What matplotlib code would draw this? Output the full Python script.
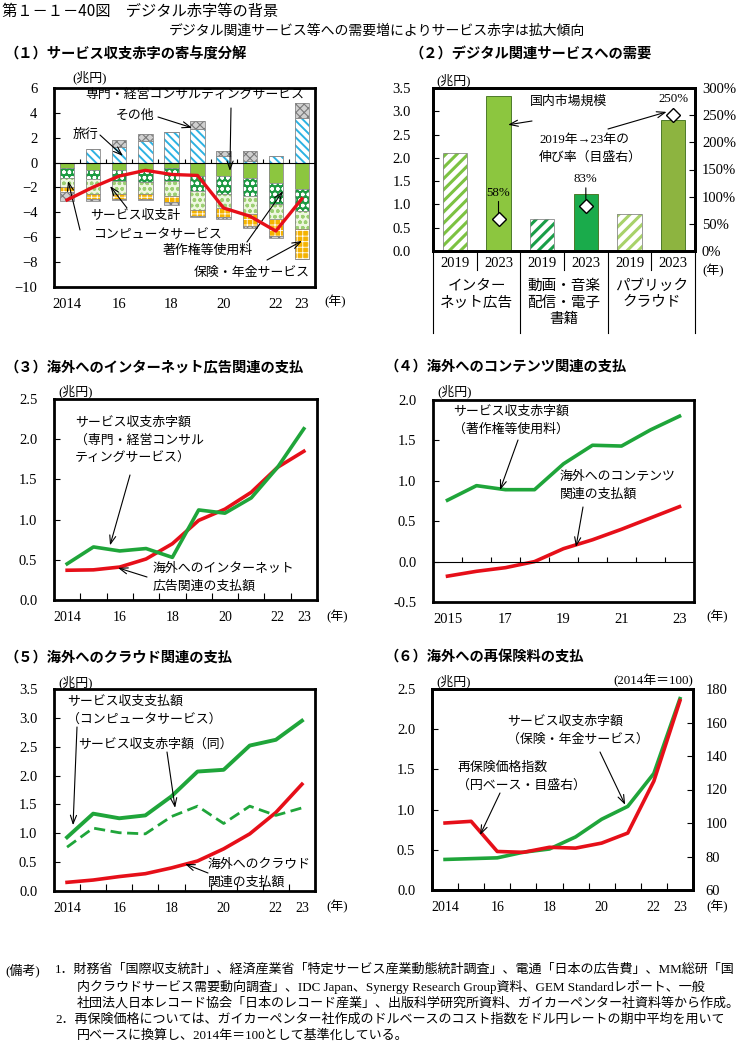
import numpy as np
import matplotlib.pyplot as plt
from matplotlib.ticker import FormatStrFormatter

W, H = 753, 1045
SERIF = ['Liberation Serif', 'Noto Sans CJK JP']
GOTH = ['Noto Sans CJK JP', 'DejaVu Sans']

plt.rcParams['font.family'] = SERIF
plt.rcParams['hatch.linewidth'] = 1.0
plt.rcParams['axes.unicode_minus'] = True

RED = '#e60f19'
GREEN = '#1fa53a'

# ---- (1) services balance contributions (trillion yen)
years = np.arange(2014, 2024)
year_labels = ['2014', '', '16', '', '18', '', '20', '', '22', '23']
travel = [0.0, 1.08, 1.27, 1.70, 2.43, 2.70, 0.55, 0.15, 0.55, 3.60]
other_pos = [0.0, 0.03, 0.57, 0.60, 0.05, 0.62, 0.40, 0.80, 0.0, 1.20]
consulting = [-0.45, -0.62, -0.62, -0.62, -0.45, -1.10, -1.05, -1.20, -1.65, -2.10]
royalties = [-0.75, -0.73, -0.87, -0.92, -1.00, -1.20, -1.50, -1.50, -1.65, -1.75]
computer = [-0.80, -1.15, -1.01, -0.96, -1.20, -1.50, -1.10, -1.45, -1.20, -1.50]
insurance = [-0.40, -0.40, -0.40, -0.40, -0.50, -0.50, -0.75, -0.95, -1.40, -2.40]
other_neg = [-0.65, -0.15, -0.07, -0.07, -0.25, -0.05, -0.10, -0.15, -0.20, 0.0]
services_total = [-3.00, -1.97, -1.08, -0.62, -0.95, -1.03, -3.65, -4.30, -5.50, -2.90]

# ---- (2) digital services demand
groups = ['インター\nネット広告', '動画・音楽\n配信・電子\n書籍', 'パブリック\nクラウド']
demand_years = ['2019', '2023']
market_2019 = [2.10, 0.68, 0.80]
market_2023 = [3.32, 1.23, 2.82]
growth = [58, 83, 250]

# ---- (3) internet advertising
ad_deficit = [0.45, 0.66, 0.61, 0.64, 0.53, 1.12, 1.08, 1.27, 1.65, 2.13]
ad_payments = [0.37, 0.375, 0.41, 0.51, 0.70, 0.99, 1.13, 1.34, 1.65, 1.85]

# ---- (4) contents
years4 = np.arange(2015, 2024)
year4_labels = ['2015', '', '17', '', '19', '', '21', '', '23']
royalty_deficit = [0.76, 0.94, 0.89, 0.89, 1.21, 1.44, 1.43, 1.63, 1.80]
content_payments = [-0.18, -0.12, -0.075, 0.0, 0.16, 0.27, 0.40, 0.54, 0.68]

# ---- (5) cloud
computer_payments = [0.93, 1.34, 1.26, 1.31, 1.64, 2.07, 2.10, 2.52, 2.62, 2.95]
computer_deficit = [0.76, 1.09, 1.01, 0.99, 1.29, 1.47, 1.17, 1.47, 1.31, 1.44]
cloud_payments = [0.15, 0.19, 0.25, 0.30, 0.40, 0.52, 0.73, 0.99, 1.36, 1.85]

# ---- (6) reinsurance
insurance_deficit = [0.38, 0.39, 0.40, 0.47, 0.51, 0.66, 0.88, 1.04, 1.45, 2.38]
reinsurance_index = [100, 101, 83, 82.5, 85.5, 85, 88, 94, 125, 173]

notes = [
    ('(備考)', '1．財務省「国際収支統計」、経済産業省「特定サービス産業動態統計調査」、電通「日本の広告費」、MM総研「国'),
    ('', '内クラウドサービス需要動向調査」、IDC Japan、Synergy Research Group資料、GEM Standardレポート、一般'),
    ('', '社団法人日本レコード協会「日本のレコード産業」、出版科学研究所資料、ガイカーペンター社資料等から作成。'),
    ('', '2．再保険価格については、ガイカーペンター社作成のドルベースのコスト指数をドル円レートの期中平均を用いて'),
    ('', '円ベースに換算し、2014年＝100として基準化している。'),
]

fig = plt.figure(figsize=(W / 100, H / 100), dpi=100)


def px_axes(x0, y0, x1, y1):
    return fig.add_axes([x0 / W, 1 - y1 / H, (x1 - x0) / W, (y1 - y0) / H])


def ftext(x, y, s, size=9.3, **kw):
    kw.setdefault('va', 'center')
    kw.setdefault('family', SERIF)
    fig.text(x / W, 1 - y / H, s, fontsize=size, **kw)


def lines(x, y, rows, dy=17.5, **kw):
    for i, r in enumerate(rows):
        ftext(x, y + i * dy, r, **kw)


def arrow(ax, xy, tail):
    ax.annotate('', xy=xy, xycoords='data', xytext=(tail[0] / W, 1 - tail[1] / H),
                textcoords='figure fraction',
                arrowprops=dict(arrowstyle='->,head_length=0.6,head_width=0.22',
                                lw=0.8, color='black', shrinkA=0, shrinkB=0))


def frame(ax):
    for s in ax.spines.values():
        s.set_linewidth(2.0)
    ax.tick_params(direction='in', length=4, width=0.8, labelsize=10.5, pad=12)


def title(x, y, s):
    ftext(x, y, s, size=10.3, family=GOTH, weight='bold')


def year_axis(ax, xs, labels):
    ax.set_xlim(xs[0] - 0.5, xs[-1] + 0.5)
    ax.set_xticks(xs[:-1] + 0.5)
    ax.set_xticklabels([])
    ax.set_xticks(xs, minor=True)
    ax.set_xticklabels(labels, minor=True)
    ax.tick_params(axis='x', which='major', length=5)
    ax.tick_params(axis='x', which='minor', length=0, pad=8)


def hbar(ax, x, h, bottom, fc, hatch, hc, width=0.55, hlw=1.0):
    with plt.rc_context({'hatch.linewidth': hlw}):
        ax.bar(x, h, width, bottom=bottom, color=fc, edgecolor=hc, hatch=hatch, linewidth=0)
    ax.bar(x, h, width, bottom=bottom, fill=False, edgecolor='#8a8a8a', linewidth=0.6)


# ======== titles
ftext(2, 11, '第１－１－40図　デジタル赤字等の背景', size=11, family=GOTH)
ftext(377, 31, 'デジタル関連サービス等への需要増によりサービス赤字は拡大傾向', size=10, family=GOTH, ha='center')

# ======== (1)
title(4, 55, '（１）サービス収支赤字の寄与度分解')
ax1 = px_axes(54, 88, 315, 287)
frame(ax1)
xi = np.arange(len(years))
pos_base = np.zeros(len(years))
for vals, fc, hatch, hc, hlw in [(travel, 'white', '\\\\\\\\', '#2cb2e2', 1.4),
                                 (other_pos, '#d0d0d0', 'xxxx', '#7a7a7a', 0.8)]:
    hbar(ax1, xi, vals, pos_base, fc, hatch, hc, hlw=hlw)
    pos_base = pos_base + np.array(vals)
neg_base = np.zeros(len(years))
for vals, fc, hatch, hc, hlw in [(consulting, '#8cc63f', None, '#8cc63f', 1.0),
                                 (royalties, '#1c9a42', 'ooo', 'white', 1.0),
                                 (computer, '#eef7e0', 'ooo', '#9ccf72', 1.0),
                                 (insurance, '#f5b300', '+++', 'white', 0.6),
                                 (other_neg, '#d0d0d0', 'xxxx', '#7a7a7a', 0.8)]:
    hbar(ax1, xi, vals, neg_base, fc, hatch, hc, hlw=hlw)
    neg_base = neg_base + np.array(vals)
ax1.axhline(0, color='black', lw=0.8)
ax1.vlines(xi[:-1] + 0.5, 0, 0.3, color='black', lw=0.8)
ax1.plot(xi, services_total, color=RED, lw=2.4, zorder=5)
ax1.set_ylim(-10, 6)
ax1.set_yticks(np.arange(-10, 7, 2))
ax1.set_xlim(-0.5, len(years) - 0.5)
ax1.set_xticks(xi)
ax1.set_xticklabels(year_labels)
ax1.tick_params(axis='x', length=0, pad=8)
ftext(90, 77, '(兆円)', ha='center')
ftext(335, 302, '(年)', ha='center')
ftext(195, 95, '専門・経営コンサルティングサービス', ha='center')
ftext(135, 116, 'その他', ha='center')
ftext(86, 135, '旅行', ha='center')
ftext(135, 216, 'サービス収支計', ha='center')
ftext(157, 235, 'コンピュータサービス', ha='center')
ftext(208, 251, '著作権等使用料', ha='center')
ftext(252, 273, '保険・年金サービス', ha='center')
arrow(ax1, (6.24, -0.67), (231, 108))
arrow(ax1, (4.79, 2.8), (158, 117))
arrow(ax1, (2.14, 0.54), (100, 135))
arrow(ax1, (1.65, -1.89), (127, 208))
arrow(ax1, (0.04, -1.48), (80, 230))
arrow(ax1, (8.27, -2.3), (247, 242))
arrow(ax1, (9.0, -6.3), (267, 260))

# ======== (2)
title(410, 55, '（２）デジタル関連サービスへの需要')
ax2 = px_axes(433, 88, 695, 251)
frame(ax2)
ax2r = ax2.twinx()
frame(ax2r)
gx = np.arange(len(groups)) * 2
colors_2019 = ['#7cc242', '#1a9e48', '#a8d26a']
colors_2023 = ['#8cc63f', '#1aab4b', '#8db440']
for g in range(len(groups)):
    hbar(ax2, gx[g], market_2019[g], 0, 'white', '///', colors_2019[g], hlw=2.2)
    ax2.bar(gx[g] + 1, market_2023[g], 0.55, color=colors_2023[g], edgecolor='#4d7a2a', linewidth=0.7)
ax2r.plot(gx + 1, growth, 'D', ms=7, mfc='white', mec='black', mew=1, zorder=6)
for g in range(len(groups)):
    if growth[g] < 200:
        ax2r.annotate(f'{growth[g]}%', xy=(gx[g] + 1, growth[g]), xytext=(0, 15),
                      textcoords='offset points', ha='center', va='bottom', fontsize=9.3,
                      arrowprops=dict(arrowstyle='-', lw=0.8, shrinkA=0, shrinkB=5))
    else:
        ax2r.annotate(f'{growth[g]}%', xy=(gx[g] + 1, growth[g]), xytext=(0, 7),
                      textcoords='offset points', ha='center', va='bottom', fontsize=9.3)
ax2.set_xlim(-0.5, 5.5)
ax2.set_ylim(0, 3.5)
ax2.set_yticks(np.arange(0, 3.6, 0.5))
ax2.yaxis.set_major_formatter(FormatStrFormatter('%.1f'))
ax2.tick_params(pad=16)
ax2r.set_ylim(0, 300)
ax2r.set_yticks(np.arange(0, 301, 50))
ax2r.yaxis.set_major_formatter(FormatStrFormatter('%d%%'))
ax2r.tick_params(pad=5)
ax2.set_xticks([])
tr = ax2.get_xaxis_transform()
for g in range(len(groups)):
    for k, yl in enumerate(demand_years):
        ax2.text(gx[g] + k, -0.075, yl, transform=tr, ha='center', va='center', fontsize=10.5)
    ax2.text(gx[g] + 0.5, -0.17, groups[g], transform=tr, ha='center', va='top',
             fontsize=10.5, linespacing=1.25, family=GOTH)
    ax2.plot([gx[g] + 0.5, gx[g] + 0.5], [0, -0.117], transform=tr, color='black', lw=0.8, clip_on=False)
for b in np.append(gx - 0.5, gx[-1] + 1.5):
    ax2.plot([b, b], [0, -0.503], transform=tr, color='black', lw=0.8, clip_on=False)
ftext(454, 80, '(兆円)', ha='center')
ftext(713, 271, '(年)', ha='center')
ftext(530, 102, '国内市場規模')
lines(539, 140, ['2019年→23年の', '伸び率（目盛右）'])
arrow(ax2, (1.22, 2.71), (532, 121))
arrow(ax2r, (4.85, 256), (608, 129))

# ======== (3)
title(4, 367, '（３）海外へのインターネット広告関連の支払')
ax3 = px_axes(54, 399, 317, 600)
frame(ax3)
ax3.plot(years, ad_payments, color=RED, lw=2.6)
ax3.plot(years, ad_deficit, color=GREEN, lw=2.6)
year_axis(ax3, years, year_labels)
ax3.set_ylim(0, 2.5)
ax3.set_yticks(np.arange(0, 2.6, 0.5))
ax3.yaxis.set_major_formatter(FormatStrFormatter('%.1f'))
ftext(76, 391, '(兆円)', ha='center')
ftext(337, 617, '(年)', ha='center')
lines(75, 423, ['サービス収支赤字額', '（専門・経営コンサル', 'ティングサービス）'])
lines(153, 569, ['海外へのインターネット', '広告関連の支払額'])
arrow(ax3, (2015.63, 0.68), (130, 475))
arrow(ax3, (2015.93, 0.40), (147, 577))

# ======== (4)
title(384, 367, '（４）海外へのコンテンツ関連の支払')
ax4 = px_axes(433, 400, 694, 602)
frame(ax4)
ax4.plot(years4, content_payments, color=RED, lw=2.6)
ax4.plot(years4, royalty_deficit, color=GREEN, lw=2.6)
ax4.axhline(0, color='black', lw=0.8)
ax4.vlines(years4[:-1] + 0.5, 0, 0.06, color='black', lw=0.8)
ax4.set_xlim(years4[0] - 0.5, years4[-1] + 0.5)
ax4.set_xticks(years4)
ax4.set_xticklabels(year4_labels)
ax4.tick_params(axis='x', length=0, pad=8)
ax4.set_ylim(-0.5, 2.0)
ax4.set_yticks(np.arange(-0.5, 2.1, 0.5))
ax4.yaxis.set_major_formatter(FormatStrFormatter('%.1f'))
ftext(455, 391, '(兆円)', ha='center')
ftext(717, 617, '(年)', ha='center')
lines(453, 412, ['サービス収支赤字額', '（著作権等使用料）'])
lines(560, 477, ['海外へのコンテンツ', '関連の支払額'])
arrow(ax4, (2016.81, 0.886), (518, 440))
arrow(ax4, (2019.43, 0.18), (583, 507))

# ======== (5)
title(4, 658, '（５）海外へのクラウド関連の支払')
ax5 = px_axes(54, 689, 315, 891)
frame(ax5)
ax5.plot(years, cloud_payments, color=RED, lw=2.6)
ax5.plot(years, computer_deficit, color=GREEN, lw=2.0, dashes=(4, 2))
ax5.plot(years, computer_payments, color=GREEN, lw=2.8)
year_axis(ax5, years, year_labels)
ax5.set_ylim(0, 3.5)
ax5.set_yticks(np.arange(0, 3.6, 0.5))
ax5.yaxis.set_major_formatter(FormatStrFormatter('%.1f'))
ftext(76, 682, '(兆円)', ha='center')
ftext(337, 907, '(年)', ha='center')
lines(67, 702, ['サービス収支支払額', '（コンピュータサービス）'])
ftext(78, 745, 'サービス収支赤字額（同）')
lines(208, 865, ['海外へのクラウド', '関連の支払額'])
arrow(ax5, (2014.23, 1.14), (77, 727))
arrow(ax5, (2018.14, 1.44), (167, 752))
arrow(ax5, (2018.52, 0.47), (208, 873))

# ======== (6)
title(384, 658, '（６）海外への再保険料の支払')
ax6 = px_axes(432, 689, 693, 890)
frame(ax6)
ax6r = ax6.twinx()
frame(ax6r)
ax6.plot(years, insurance_deficit, color=GREEN, lw=2.6)
ax6r.plot(years, reinsurance_index, color=RED, lw=2.6)
year_axis(ax6, years, year_labels)
ax6.set_ylim(0, 2.5)
ax6.set_yticks(np.arange(0, 2.6, 0.5))
ax6.yaxis.set_major_formatter(FormatStrFormatter('%.1f'))
ax6r.set_ylim(60, 180)
ax6r.set_yticks(np.arange(60, 181, 20))
ax6r.tick_params(pad=9)
ftext(454, 681, '(兆円)', ha='center')
ftext(653, 681, '(2014年＝100)', ha='center')
ftext(717, 907, '(年)', ha='center')
lines(507, 722, ['サービス収支赤字額', '（保険・年金サービス）'])
lines(457, 768, ['再保険価格指数', '（円ベース・目盛右）'])
arrow(ax6, (2020.9, 1.06), (600, 752))
arrow(ax6r, (2015.34, 92.8), (500, 793))

# ======== notes
for i, (head, row) in enumerate(notes):
    if head:
        ftext(5, 970 + i * 16.5, head, size=9.4)
    x = 55 if row[0] in '12' else 77
    ftext(x, 970 + i * 16.5, row, size=9.4)

fig.savefig('out.png', dpi=100)
